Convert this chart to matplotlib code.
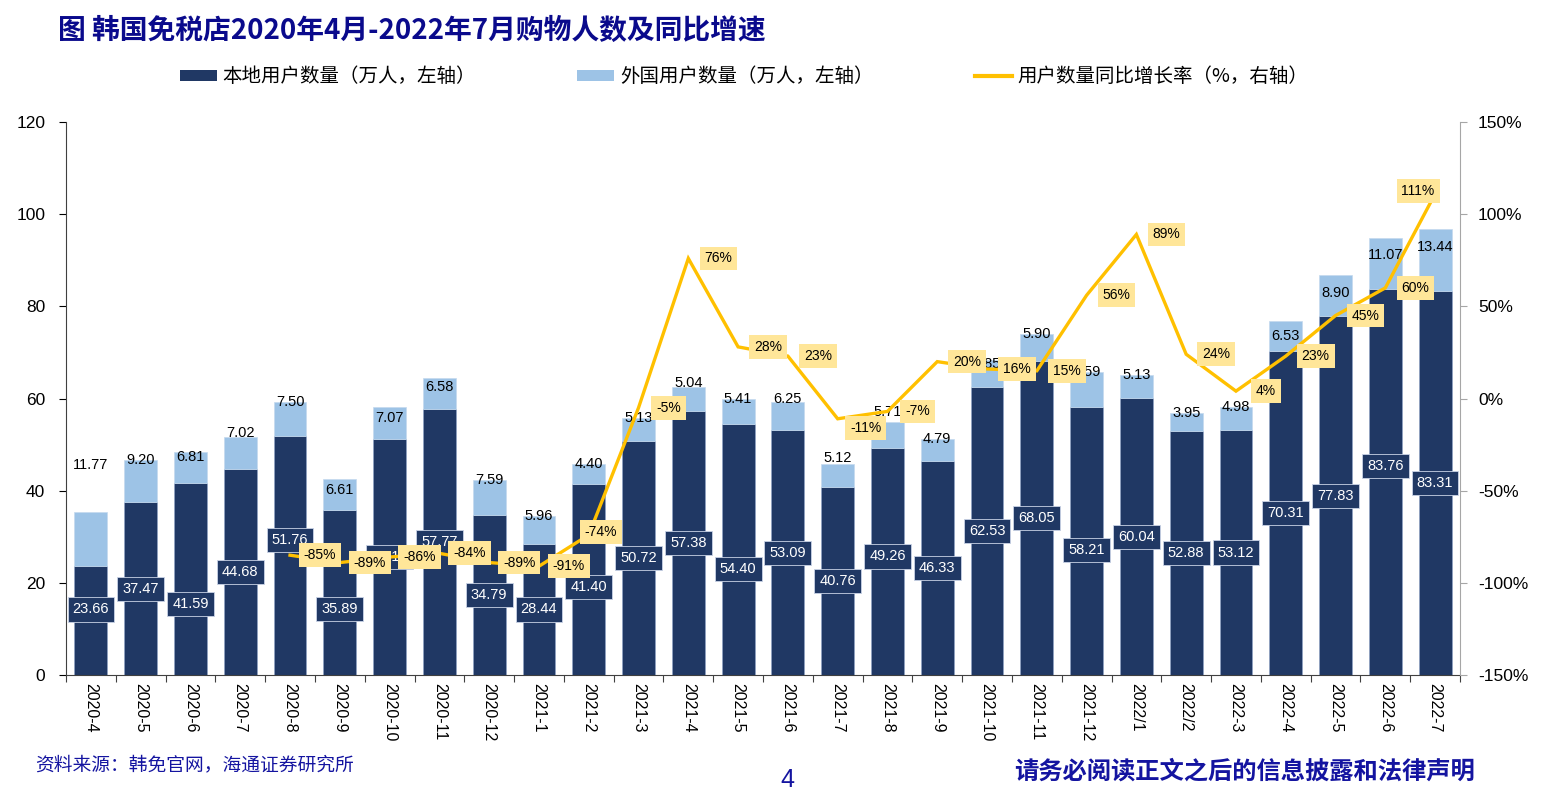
import matplotlib
matplotlib.use('Agg')
import matplotlib.pyplot as plt
import numpy as np
from matplotlib.patches import Patch
from matplotlib.lines import Line2D
from matplotlib.ticker import FuncFormatter

plt.rcParams['font.family'] = ['Liberation Sans', 'Noto Sans CJK SC']
CJK = ['Noto Sans CJK SC', 'DejaVu Sans']

# 数据
months = ['2020-4', '2020-5', '2020-6', '2020-7', '2020-8', '2020-9', '2020-10', '2020-11', '2020-12',
          '2021-1', '2021-2', '2021-3', '2021-4', '2021-5', '2021-6', '2021-7', '2021-8', '2021-9',
          '2021-10', '2021-11', '2021-12', '2022/1', '2022/2', '2022-3', '2022-4', '2022-5', '2022-6', '2022-7']
local = [23.66, 37.47, 41.59, 44.68, 51.76, 35.89, 51.12, 57.77, 34.79, 28.44, 41.40, 50.72, 57.38, 54.40,
         53.09, 40.76, 49.26, 46.33, 62.53, 68.05, 58.21, 60.04, 52.88, 53.12, 70.31, 77.83, 83.76, 83.31]
foreign = [11.77, 9.20, 6.81, 7.02, 7.50, 6.61, 7.07, 6.58, 7.59, 5.96, 4.40, 5.13, 5.04, 5.41,
           6.25, 5.12, 5.71, 4.79, 5.85, 5.90, 7.59, 5.13, 3.95, 4.98, 6.53, 8.90, 11.07, 13.44]
# 同比增速从2020-8开始
growth = [-85, -89, -86, -84, -89, -91, -74, -5, 76, 28, 23, -11, -7, 20, 16, 15, 56, 89, 24, 4, 23, 45, 60, 111]
growth_start = 4

# 标签微调（像素）
local_nudge = {0: 11, 2: -25, 4: 16, 5: -17, 10: -7, 13: -19, 16: 5, 20: -9, 26: 16}
foreign_nudge = {0: 47, 2: -5, 3: 4, 5: -11, 6: -11, 7: -9, 12: 4, 14: 3, 15: 6, 16: 10, 18: -4,
                 24: -15, 25: -18, 26: -17, 27: -18}
pct_offset = {6: (12, 3), 11: (28, -9), 23: (-17, 3)}

NAVY = '#203864'
LIGHT = '#9DC3E6'
GOLD = '#FFC000'
BLUE_TXT = '#1414A0'

fig = plt.figure(figsize=(15.61, 7.95), dpi=100)
ax = fig.add_axes([66 / 1561, 120 / 795, 1394 / 1561, 553 / 795])
x = np.arange(len(months))
local_arr = np.array(local)
foreign_arr = np.array(foreign)

ax.bar(x, local_arr, 0.66, color=NAVY, edgecolor='#8FA3C4', linewidth=0.5, zorder=2)
ax.bar(x, foreign_arr, 0.66, bottom=local_arr, color=LIGHT, edgecolor='#C5DAEE', linewidth=0.5, zorder=2)

ax.set_xlim(-0.5, 27.5)
ax.set_ylim(0, 120)
ax.set_yticks(range(0, 121, 20))
ax.tick_params(axis='y', direction='out', length=5, labelsize=12.5, pad=10, colors='black')
ax.set_xticks(np.arange(29) - 0.5)
ax.set_xticklabels([])
ax.tick_params(axis='x', which='major', direction='out', length=5, color='#404040')
ax.set_xticks(x, minor=True)
ax.set_xticklabels(months, minor=True, rotation=-90, fontsize=11.5)
ax.tick_params(axis='x', which='minor', length=0, pad=6)
for s in ['top', 'right']:
    ax.spines[s].set_visible(False)
ax.spines['left'].set_color('#404040')
ax.spines['bottom'].set_color('#404040')

# 本地用户数据标签
for i, v in enumerate(local):
    ax.annotate(f'{v:.2f}', (x[i], v / 2), xytext=(0, local_nudge.get(i, 0)), textcoords='offset pixels',
                ha='center', va='center', fontsize=10.5, color='white', zorder=5,
                bbox=dict(boxstyle='square,pad=0.35', fc=NAVY, ec='#C9D3E6', lw=0.6))

# 外国用户数据标签
for i, v in enumerate(foreign):
    ax.annotate(f'{v:.2f}', (x[i], local[i] + v), xytext=(0, foreign_nudge.get(i, 0)),
                textcoords='offset pixels', ha='center', va='center', fontsize=10.5, color='black', zorder=4)

# 右轴：同比增速
ax2 = ax.twinx()
gx = x[growth_start:]
ax2.plot(gx, growth, color=GOLD, lw=2.4, zorder=3, solid_joinstyle='miter')
ax2.set_ylim(-150, 150)
ax2.set_yticks(range(-150, 151, 50))
ax2.yaxis.set_major_formatter(FuncFormatter(lambda v, p: f'{int(v)}%'))
ax2.tick_params(axis='y', direction='out', length=5, labelsize=12.5, pad=8, color='#A6A6A6')
for s in ['top', 'left', 'bottom']:
    ax2.spines[s].set_visible(False)
ax2.spines['right'].set_color('#A6A6A6')

for j, g in enumerate(growth):
    dx, dy = pct_offset.get(j, (30, 0))
    ax2.annotate(f'{g}%', (gx[j], g), xytext=(dx, dy), textcoords='offset pixels',
                 ha='center', va='center', fontsize=10, color='black', zorder=6,
                 bbox=dict(boxstyle='square,pad=0.35', fc='#FFE699', ec='none'))

# 标题和图例
fig.text(58 / 1561, 1 - 31 / 795, '图 韩国免税店2020年4月-2022年7月购物人数及同比增速', family=CJK,
         fontsize=20, fontweight='bold', color='#0A0A8C', va='center', ha='left')

handles = [Patch(facecolor=NAVY), Patch(facecolor=LIGHT), Line2D([], [], color=GOLD, lw=3)]
labels = ['本地用户数量（万人，左轴）', '外国用户数量（万人，左轴）', '用户数量同比增长率（%，右轴）']
fig.legend(handles, labels, loc='center left', bbox_to_anchor=(180 / 1561, 1 - 77 / 795), ncol=3,
           frameon=False, prop={'family': CJK, 'size': 14}, handlelength=1.9, handleheight=0.55,
           handletextpad=0.3, columnspacing=5.2, borderpad=0, borderaxespad=0)

# 页脚
fig.text(35 / 1561, 1 - 765 / 795, '资料来源：韩免官网，海通证券研究所', family=CJK, fontsize=13.5,
         color=BLUE_TXT, va='center', ha='left')
fig.text(787 / 1561, 1 - 780 / 795, '4', fontsize=18, color=BLUE_TXT, va='center', ha='center')
fig.text(1475 / 1561, 1 - 772 / 795, '请务必阅读正文之后的信息披露和法律声明', family=CJK, fontsize=17.5,
         fontweight='bold', color=BLUE_TXT, va='center', ha='right')

fig.savefig('out.png', dpi=100)
